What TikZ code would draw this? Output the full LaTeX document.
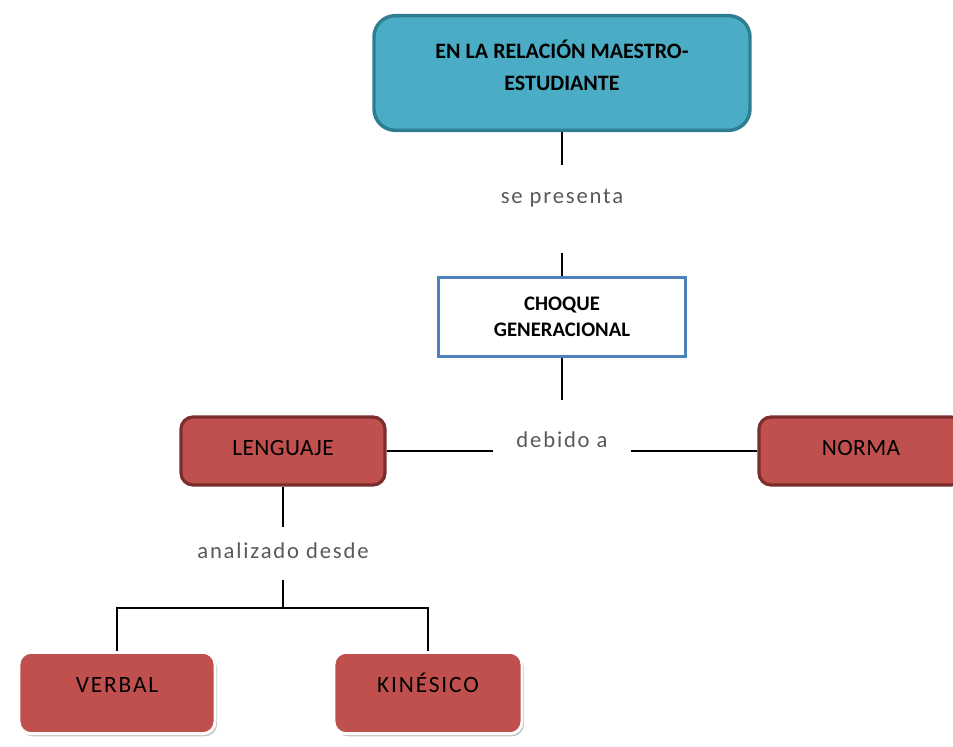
\documentclass[tikz,border=0pt]{standalone}
\usepackage{fontspec}
\setmainfont{Carlito}
\usetikzlibrary{positioning,shadows}

\definecolor{tealfill}{HTML}{4BACC6}
\definecolor{tealline}{HTML}{2E7D91}
\definecolor{redfill}{HTML}{C0504D}
\definecolor{redline}{HTML}{7B2F2D}
\definecolor{blueline}{HTML}{4F81BD}
\definecolor{labelgray}{HTML}{595959}

\begin{document}
\begin{tikzpicture}[
x=0.75pt,y=-0.75pt,
topbox/.style={
  draw=tealline,
  fill=tealfill,
  line width=2.6pt,
  rounded corners=16pt,
  minimum width=282pt,
  minimum height=86pt,
  align=center,
  font=\bfseries\fontsize{16.5}{24}\selectfont
  },
plainbox/.style={
  draw=blueline,
  fill=white,
  line width=2.4pt,
  minimum width=185pt,
  minimum height=59pt,
  align=center,
  font=\bfseries\fontsize{15.5}{19.5}\selectfont
  },
redbox/.style={
  draw=redline,
  fill=redfill,
  line width=2.4pt,
  rounded corners=9pt,
  minimum width=153pt,
  minimum height=51pt,
  text height=12pt,
  text depth=6pt,
  font=\addfontfeatures{LetterSpace=2}\fontsize{17.5}{20}\selectfont
  },
leafbox/.style={
  draw=white,
  fill=redfill,
  line width=2.2pt,
  rounded corners=9pt,
  minimum height=61pt,
  text height=12pt,
  text depth=13pt,
  drop shadow={shadow xshift=1.5pt,shadow yshift=-2pt,opacity=0.45},
  font=\addfontfeatures{LetterSpace=8}\fontsize{17.5}{20}\selectfont
  },
lbl/.style={
  inner sep=0pt,
  anchor=base,
  text=labelgray,
  font=\addfontfeatures{LetterSpace=8}\fontsize{17}{20}\selectfont
  },
link/.style={
  line width=2.2pt
  }
]
\useasboundingbox (0,0) rectangle (953,746);
\clip (0,0) rectangle (953,746);

% boxes
\node[topbox] (rel) at (562,73) {EN LA RELACIÓN MAESTRO-\\ESTUDIANTE\\[-12pt]\mbox{}};
\node[plainbox] (choque) at (562,317) {CHOQUE\\GENERACIONAL};
\node[redbox] (lenguaje) at (283,451) {LENGUAJE};
\node[redbox] (norma) at (861,451) {NORMA};
\node[leafbox,minimum width=147pt] (verbal) at (117,693) {VERBAL};
\node[leafbox,minimum width=141pt] (kinesico) at (428,693) {KINÉSICO};

% link words
\node[lbl,text height=28.5pt,text depth=37.5pt] (sepres) at (562,203) {se presenta};
\node[lbl,text height=35.25pt,text depth=41.25pt,minimum width=103.5pt] (debido) at (562,447) {debido a};
\node[lbl,text height=23.25pt,text depth=16.5pt] (analiz) at (283,558) {analizado desde};
\coordinate (junc) at (283,608);

\foreach \a/\b in {rel/sepres,sepres/choque,choque/debido,lenguaje/analiz}
  \draw[link] (\a.south) -- (\b.north);
\draw[link] (lenguaje.east) -- (debido.west);
\draw[link] (debido.east) -- (norma.west);
\draw[link] (analiz.south) -- (junc);
\draw[link] (verbal.north) |- (junc) -| (kinesico.north);

\end{tikzpicture}
\end{document}
